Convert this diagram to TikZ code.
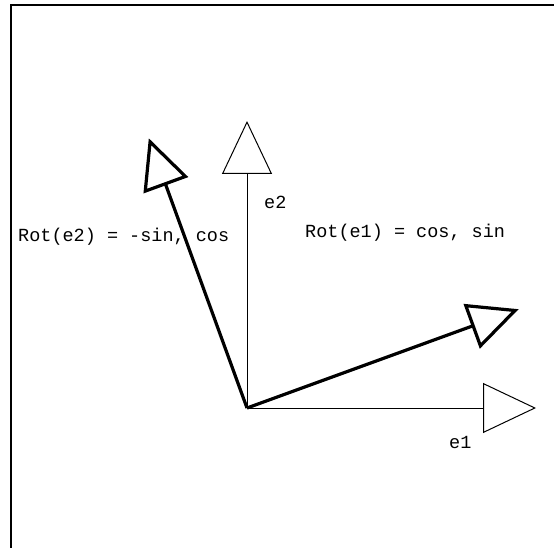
\documentclass[tikz,border=0pt]{standalone}
\usepackage{fontspec}
\setmonofont{Liberation Mono}
\usetikzlibrary{arrows.meta}

\tikzset{
  basevec/.style={line width=1pt, -{Triangle[length=53pt, width=50pt, fill=white]}},
  rotvec/.style={line width=3.2pt, -{Triangle[length=50pt, width=47pt, fill=white]}},
  lbl/.style={font=\ttfamily\fontsize{18.5}{20}\selectfont, inner sep=0pt, anchor=west},
}

\begin{document}
\begin{tikzpicture}[x=1pt, y=-1pt]

    % Page and frame
    \useasboundingbox (0,0) rectangle (554,548);
    \clip (0,0) rectangle (554,548);
    \draw[line width=2pt] (11,5) rectangle (600,600);

    % Origin and tips (rotation by 20 degrees)
    \coordinate (O) at (247,408);
    \coordinate (E1) at (536,408);
    \coordinate (E2) at (247,121);
    \coordinate (R1) at (518.6,309.2);
    \coordinate (R2) at (148.8,138.3);

    % Basis vectors
    \draw[basevec] (O) -- (E1);
    \draw[basevec] (O) -- (E2);

    % Rotated vectors
    \draw[rotvec] (O) -- (R1);
    \draw[rotvec] (O) -- (R2);

    % Labels
    \node[lbl] (le1) at (449,442) {e1};
    \node[lbl] (le2) at (264,202) {e2};
    \node[lbl] (lr1) at (305,233) {Rot(e1) = cos, sin};
    \node[lbl] (lr2) at (18,237) {Rot(e2) = -sin, cos};

\end{tikzpicture}
\end{document}
